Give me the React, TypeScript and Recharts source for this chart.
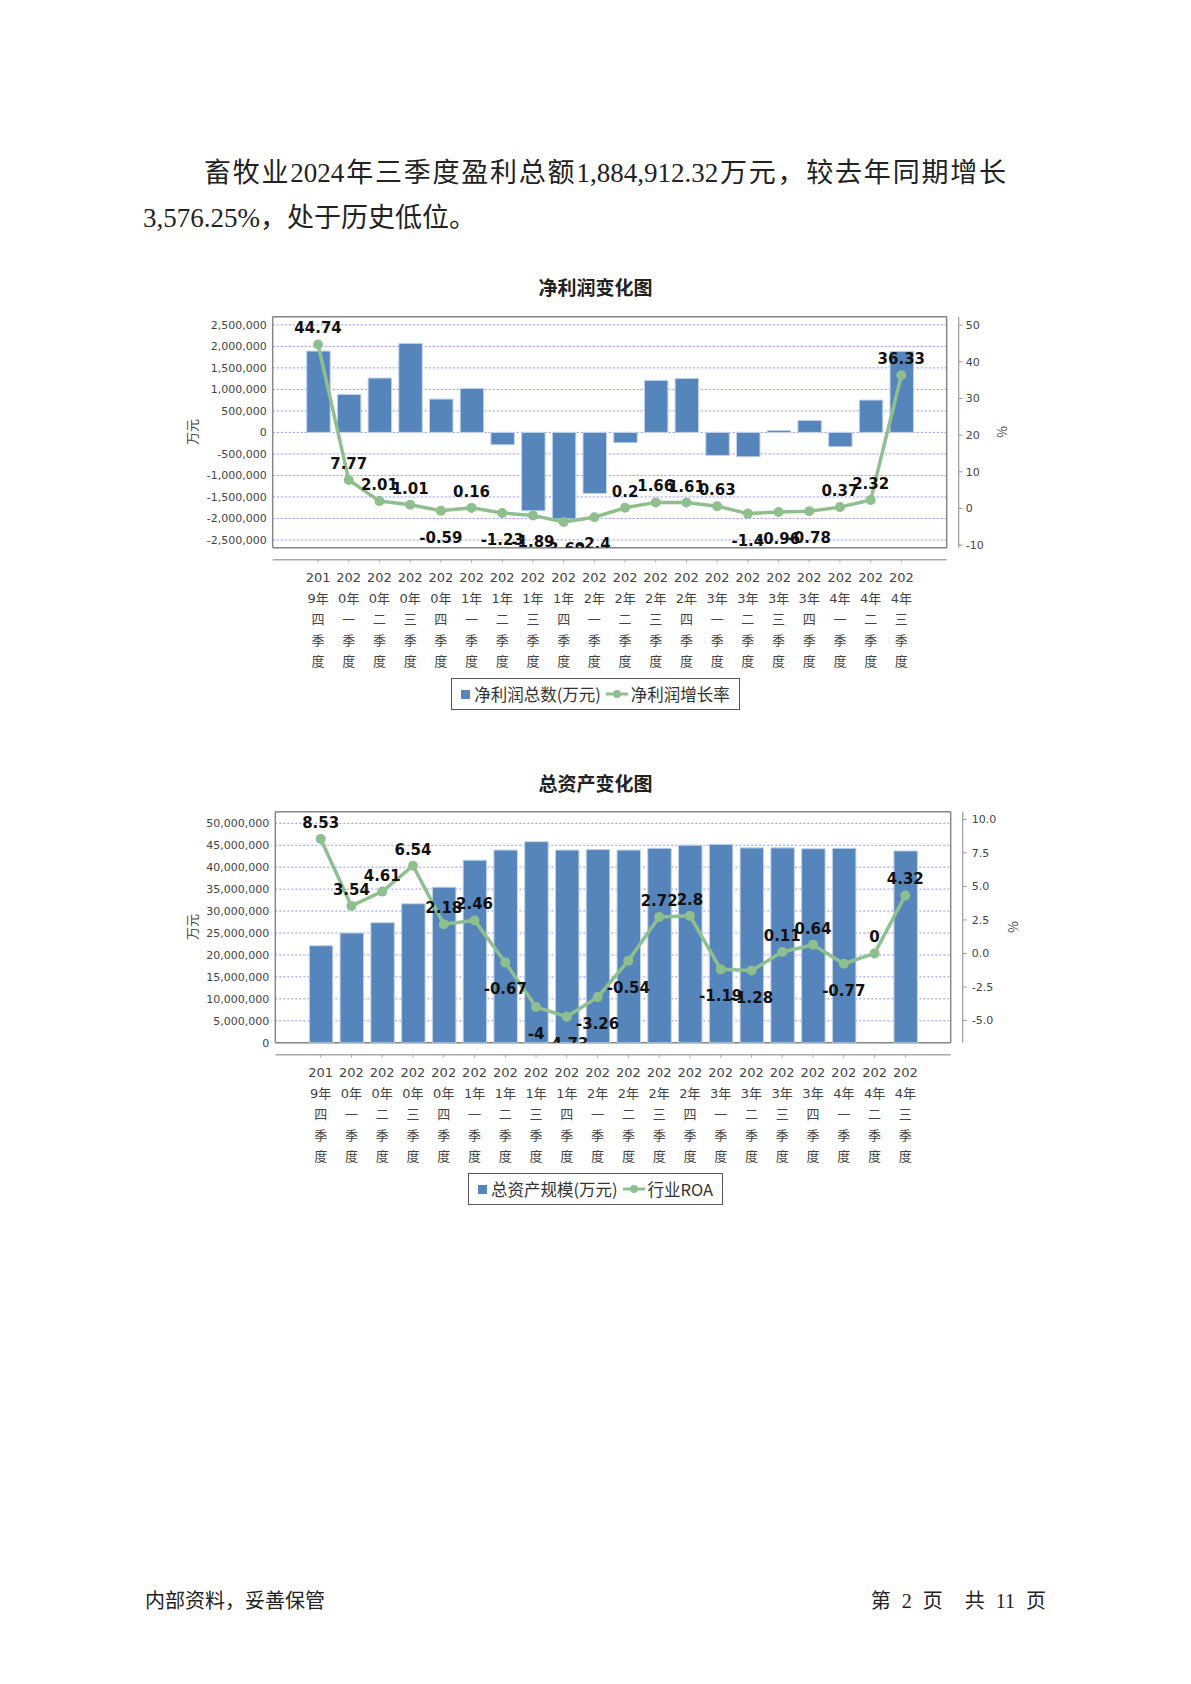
import React from "react"
import {
  ComposedChart,
  Bar,
  Line,
  XAxis,
  YAxis,
  CartesianGrid,
  LabelList,
  Legend,
} from "recharts"

// quarters shown on the category axis
const quarters = [
  "2019年四季度", "2020年一季度", "2020年二季度", "2020年三季度", "2020年四季度",
  "2021年一季度", "2021年二季度", "2021年三季度", "2021年四季度", "2022年一季度",
  "2022年二季度", "2022年三季度", "2022年四季度", "2023年一季度", "2023年二季度",
  "2023年三季度", "2023年四季度", "2024年一季度", "2024年二季度", "2024年三季度",
]

// 净利润总数 (万元)
const netProfit = [
  1891000, 884000, 1264000, 2070000, 775000, 1023000, -287000, -1822000, -2010000, -1420000,
  -240000, 1209000, 1256000, -535000, -566000, 47000, 279000, -333000, 752000, 1884912.32,
]
// 净利润增长率 (%)
const profitGrowth = [
  44.74, 7.77, 2.01, 1.01, -0.59, 0.16, -1.23, -1.89, -3.69, -2.4,
  0.2, 1.66, 1.61, 0.63, -1.4, -0.96, -0.78, 0.37, 2.32, 36.33,
]

// 总资产规模 (万元), 2024年二季度 has no bar
const totalAssets = [
  22100000, 25000000, 27350000, 31670000, 35450000, 41600000, 43900000, 45800000, 43900000, 44000000,
  43900000, 44300000, 45000000, 45200000, 44400000, 44400000, 44200000, 44300000, null, 43700000,
]
// 行业ROA (%)
const industryRoa = [
  8.53, 3.54, 4.61, 6.54, 2.18, 2.46, -0.67, -4, -4.73, -3.26,
  -0.54, 2.72, 2.8, -1.19, -1.28, 0.11, 0.64, -0.77, 0, 4.32,
]

const profitTicks = [-2500000, -2000000, -1500000, -1000000, -500000, 0, 500000, 1000000, 1500000, 2000000, 2500000]
const growthTicks = [-10, 0, 10, 20, 30, 40, 50]
const assetTicks = [0, 5000000, 10000000, 15000000, 20000000, 25000000, 30000000, 35000000, 40000000, 45000000, 50000000]
const roaTicks = [-5, -2.5, 0, 2.5, 5, 7.5, 10]

const BAR = "#5585ba"
const BAR_EDGE = "#c3d4e8"
const LINE = "#8fbf8f"
const AXIS_FONT = "'DejaVu Sans', 'Noto Sans CJK SC', sans-serif"
const CJK_FONT = "'Noto Sans CJK SC', sans-serif"
const SERIF = "'Liberation Serif', 'Noto Sans CJK SC', serif"

const CHART_W = 1191
const CHART_H = 470
const X_AXIS_H = 130
const LEFT_W = 80
const RIGHT_W = 60
const AXIS_GAP = 12 // category axis and right axis sit apart from the plot

// plot rectangles, chart coordinates
const plot1 = { left: 272.7, top: 66.7, width: 674, height: 231 }
const plot2 = { left: 275.3, top: 61.7, width: 675.4, height: 231 }

const marginFor = (p: typeof plot1) => ({
  top: p.top,
  left: p.left - LEFT_W,
  right: CHART_W - p.left - p.width - RIGHT_W,
  bottom: CHART_H - p.top - p.height - X_AXIS_H,
})

const fmtInt = (v: number) => v.toLocaleString("en-US")
const fmtOne = (v: number) => v.toFixed(1)

// JFreeChart wraps the label by width: 201 / 9年 / 四 / 季 / 度
function splitQuarter(label: string) {
  const year = label.slice(0, 4)
  return [year.slice(0, 3), year.slice(3) + "年", label.slice(5, 6), "季", "度"]
}

function QuarterTick(props: any) {
  const { x, y, payload } = props
  const top = y + AXIS_GAP
  return (
    <g>
      <line x1={x} x2={x} y1={top} y2={top + 3} stroke="#aaa" />
      <text textAnchor="middle" fill="#444" fontSize={13} fontFamily={AXIS_FONT}>
        {splitQuarter(String(payload.value)).map((t, i) => (
          <tspan key={i} x={x} y={top + 21.8 + i * 21}>
            {t}
          </tspan>
        ))}
      </text>
    </g>
  )
}

function rightTick(margin: number, fmt: (v: number) => string) {
  return (props: any) => {
    const { x, y, payload } = props
    const axisX = x - margin + AXIS_GAP
    return (
      <g>
        <line x1={axisX} x2={axisX + 4} y1={y} y2={y} stroke="#999" />
        <text x={x} y={y} dy="0.36em" textAnchor="start" fill="#444" fontSize={11} fontFamily={AXIS_FONT}>
          {fmt(payload.value)}
        </text>
      </g>
    )
  }
}

// point labels: above for >= 0, below for negatives, cut at the plot edge
function valueLabel(clipId: string) {
  return (props: any) => {
    const x = props.x ?? props.viewBox?.x
    const y = props.y ?? props.viewBox?.y
    const { value } = props
    if (value == null || x == null || y == null) return null
    const baseline = value >= 0 ? y - 11 : y + 32
    return (
      <text
        x={x}
        y={baseline}
        textAnchor="middle"
        fontSize={15}
        fontWeight="bold"
        fontFamily="'DejaVu Sans', sans-serif"
        fill="#111"
        clipPath={`url(#${clipId})`}
      >
        {String(value)}
      </text>
    )
  }
}

function LegendBox({ barLabel, lineLabel }: { barLabel: string; lineLabel: string }) {
  return (
    <div
      style={{
        boxSizing: "border-box",
        width: "100%",
        height: "100%",
        border: "1.5px solid #555",
        display: "flex",
        alignItems: "center",
        justifyContent: "center",
        fontFamily: CJK_FONT,
        fontSize: 16.5,
        color: "#333",
        whiteSpace: "nowrap",
      }}
    >
      <span style={{ width: 9, height: 9, background: BAR, marginRight: 4, display: "inline-block" }} />
      <span>{barLabel}</span>
      <svg width="22" height="10" style={{ margin: "0 3px 0 5px" }}>
        <line x1={0} x2={22} y1={5} y2={5} stroke={LINE} strokeWidth={3} />
        <circle cx={11} cy={5} r={4} fill={LINE} />
      </svg>
      <span>{lineLabel}</span>
    </div>
  )
}

const borderX = ({ offset }: any) => [offset.left, offset.left + offset.width]
const borderY = ({ offset }: any) => [offset.top, offset.top + offset.height]
const categoryLine = ({ offset }: any) => [offset.top + offset.height + AXIS_GAP]
const rightLine = ({ offset }: any) => [offset.left + offset.width + AXIS_GAP]

function RotatedText({ x, y, text }: { x: number; y: number; text: string }) {
  return (
    <div
      style={{
        position: "absolute",
        left: x,
        top: y,
        transform: "translate(-50%, -50%) rotate(-90deg)",
        fontFamily: CJK_FONT,
        fontSize: 13,
        color: "#444",
        whiteSpace: "nowrap",
      }}
    >
      {text}
    </div>
  )
}

function Title({ y, text }: { y: number; text: string }) {
  return (
    <div
      style={{
        position: "absolute",
        left: 0,
        width: CHART_W,
        top: y - 14,
        lineHeight: "28px",
        textAlign: "center",
        fontFamily: CJK_FONT,
        fontWeight: "bold",
        fontSize: 19,
        color: "#222",
      }}
    >
      {text}
    </div>
  )
}

export default function App() {
  const profitData = quarters.map((quarter, i) => ({
    quarter,
    profit: netProfit[i],
    growth: profitGrowth[i],
  }))
  const assetData = quarters.map((quarter, i) => ({
    quarter,
    assets: totalAssets[i],
    roa: industryRoa[i],
  }))

  return (
    <div style={{ position: "absolute", left: 0, top: 0, width: 1191, height: 1684, background: "#fff" }}>
      <svg width={0} height={0} style={{ position: "absolute" }}>
        <defs>
          <clipPath id="plotClip1" clipPathUnits="userSpaceOnUse">
            <rect x={plot1.left} y={plot1.top} width={plot1.width} height={plot1.height} />
          </clipPath>
          <clipPath id="plotClip2" clipPathUnits="userSpaceOnUse">
            <rect x={plot2.left} y={plot2.top} width={plot2.width} height={plot2.height} />
          </clipPath>
        </defs>
      </svg>

      <div
        style={{
          position: "absolute",
          left: 204,
          top: 155,
          width: 802,
          lineHeight: "36px",
          fontFamily: SERIF,
          fontSize: 27,
          color: "#222",
          textAlign: "justify",
          textAlignLast: "justify",
          whiteSpace: "nowrap",
        }}
      >
        畜牧业2024年三季度盈利总额1,884,912.32万元，较去年同期增长
      </div>
      <div
        style={{
          position: "absolute",
          left: 143,
          top: 200,
          lineHeight: "36px",
          fontFamily: SERIF,
          fontSize: 27,
          color: "#222",
          whiteSpace: "nowrap",
        }}
      >
        3,576.25%，处于历史低位。
      </div>

      <Title y={287} text="净利润变化图" />
      <div style={{ position: "absolute", left: 0, top: 250 }}>
        <ComposedChart width={CHART_W} height={CHART_H} data={profitData} margin={marginFor(plot1)}>
          <CartesianGrid vertical={false} stroke="#8c8cff" strokeDasharray="2 2" />
          <CartesianGrid stroke="#888" strokeWidth={1.5} horizontalCoordinatesGenerator={borderY} verticalCoordinatesGenerator={borderX} />
          <CartesianGrid vertical={false} stroke="#aaa" strokeWidth={1.5} horizontalCoordinatesGenerator={categoryLine} />
          <CartesianGrid horizontal={false} stroke="#999" strokeWidth={1.2} verticalCoordinatesGenerator={rightLine} />
          <XAxis
            dataKey="quarter"
            interval={0}
            padding={{ left: 30, right: 30 }}
            axisLine={false}
            tickLine={false}
            tickSize={0}
            tickMargin={0}
            height={X_AXIS_H}
            tick={(p: any) => <QuarterTick {...p} />}
          />
          <YAxis
            domain={[-2680000, 2690000]}
            ticks={profitTicks}
            interval={0}
            allowDataOverflow
            width={LEFT_W}
            axisLine={false}
            tickLine={false}
            tickSize={0}
            tickMargin={6}
            tickFormatter={fmtInt}
            tick={{ fill: "#444", fontSize: 11, fontFamily: AXIS_FONT }}
          />
          <YAxis
            yAxisId="right"
            orientation="right"
            domain={[-10.7, 52.3]}
            ticks={growthTicks}
            interval={0}
            allowDataOverflow
            width={RIGHT_W}
            axisLine={false}
            tickLine={false}
            tickSize={0}
            tickMargin={19}
            tick={rightTick(19, (v) => String(v))}
          />
          <Bar dataKey="profit" fill={BAR} stroke={BAR_EDGE} strokeWidth={1} barSize={23.5} isAnimationActive={false} />
          <Line
            yAxisId="right"
            type="linear"
            dataKey="growth"
            stroke={LINE}
            strokeWidth={3.5}
            dot={{ r: 5, fill: LINE, stroke: LINE, strokeWidth: 0 }}
            activeDot={false}
            isAnimationActive={false}
          >
            <LabelList dataKey="growth" content={valueLabel("plotClip1")} />
          </Line>
          <Legend
            layout="vertical"
            align="center"
            verticalAlign="middle"
            wrapperStyle={{ position: "absolute", left: 451, top: 428, width: 289, height: 32 }}
            content={() => <LegendBox barLabel="净利润总数(万元)" lineLabel="净利润增长率" />}
          />
        </ComposedChart>
      </div>
      <RotatedText x={190.7} y={432.2} text="万元" />
      <RotatedText x={1000.7} y={432.2} text="%" />

      <Title y={783} text="总资产变化图" />
      <div style={{ position: "absolute", left: 0, top: 750 }}>
        <ComposedChart width={CHART_W} height={CHART_H} data={assetData} margin={marginFor(plot2)}>
          <CartesianGrid vertical={false} stroke="#8c8cff" strokeDasharray="2 2" />
          <CartesianGrid stroke="#888" strokeWidth={1.5} horizontalCoordinatesGenerator={borderY} verticalCoordinatesGenerator={borderX} />
          <CartesianGrid vertical={false} stroke="#aaa" strokeWidth={1.5} horizontalCoordinatesGenerator={categoryLine} />
          <CartesianGrid horizontal={false} stroke="#999" strokeWidth={1.2} verticalCoordinatesGenerator={rightLine} />
          <XAxis
            dataKey="quarter"
            interval={0}
            padding={{ left: 30, right: 30 }}
            axisLine={false}
            tickLine={false}
            tickSize={0}
            tickMargin={0}
            height={X_AXIS_H}
            tick={(p: any) => <QuarterTick {...p} />}
          />
          <YAxis
            domain={[0, 52640000]}
            ticks={assetTicks}
            interval={0}
            allowDataOverflow
            width={LEFT_W}
            axisLine={false}
            tickLine={false}
            tickSize={0}
            tickMargin={6}
            tickFormatter={fmtInt}
            tick={{ fill: "#444", fontSize: 11, fontFamily: AXIS_FONT }}
          />
          <YAxis
            yAxisId="right"
            orientation="right"
            domain={[-6.66, 10.57]}
            ticks={roaTicks}
            interval={0}
            allowDataOverflow
            width={RIGHT_W}
            axisLine={false}
            tickLine={false}
            tickSize={0}
            tickMargin={21}
            tick={rightTick(21, fmtOne)}
          />
          <Bar dataKey="assets" fill={BAR} stroke={BAR_EDGE} strokeWidth={1} barSize={23.5} isAnimationActive={false} />
          <Line
            yAxisId="right"
            type="linear"
            dataKey="roa"
            stroke={LINE}
            strokeWidth={3.5}
            dot={{ r: 5, fill: LINE, stroke: LINE, strokeWidth: 0 }}
            activeDot={false}
            isAnimationActive={false}
          >
            <LabelList dataKey="roa" content={valueLabel("plotClip2")} />
          </Line>
          <Legend
            layout="vertical"
            align="center"
            verticalAlign="middle"
            wrapperStyle={{ position: "absolute", left: 468, top: 423, width: 255, height: 32 }}
            content={() => <LegendBox barLabel="总资产规模(万元)" lineLabel="行业ROA" />}
          />
        </ComposedChart>
      </div>
      <RotatedText x={190.7} y={927.2} text="万元" />
      <RotatedText x={1011.7} y={927.2} text="%" />

      <div
        style={{
          position: "absolute",
          left: 145,
          top: 1588,
          lineHeight: "26px",
          fontFamily: SERIF,
          fontSize: 20,
          color: "#222",
          whiteSpace: "nowrap",
        }}
      >
        内部资料，妥善保管
      </div>
      <div
        style={{
          position: "absolute",
          left: 800,
          width: 246,
          top: 1588,
          lineHeight: "26px",
          fontFamily: SERIF,
          fontSize: 20,
          color: "#222",
          textAlign: "right",
          whiteSpace: "pre",
          wordSpacing: 6,
        }}
      >
        {"第 2 页  共 11 页"}
      </div>
    </div>
  )
}
